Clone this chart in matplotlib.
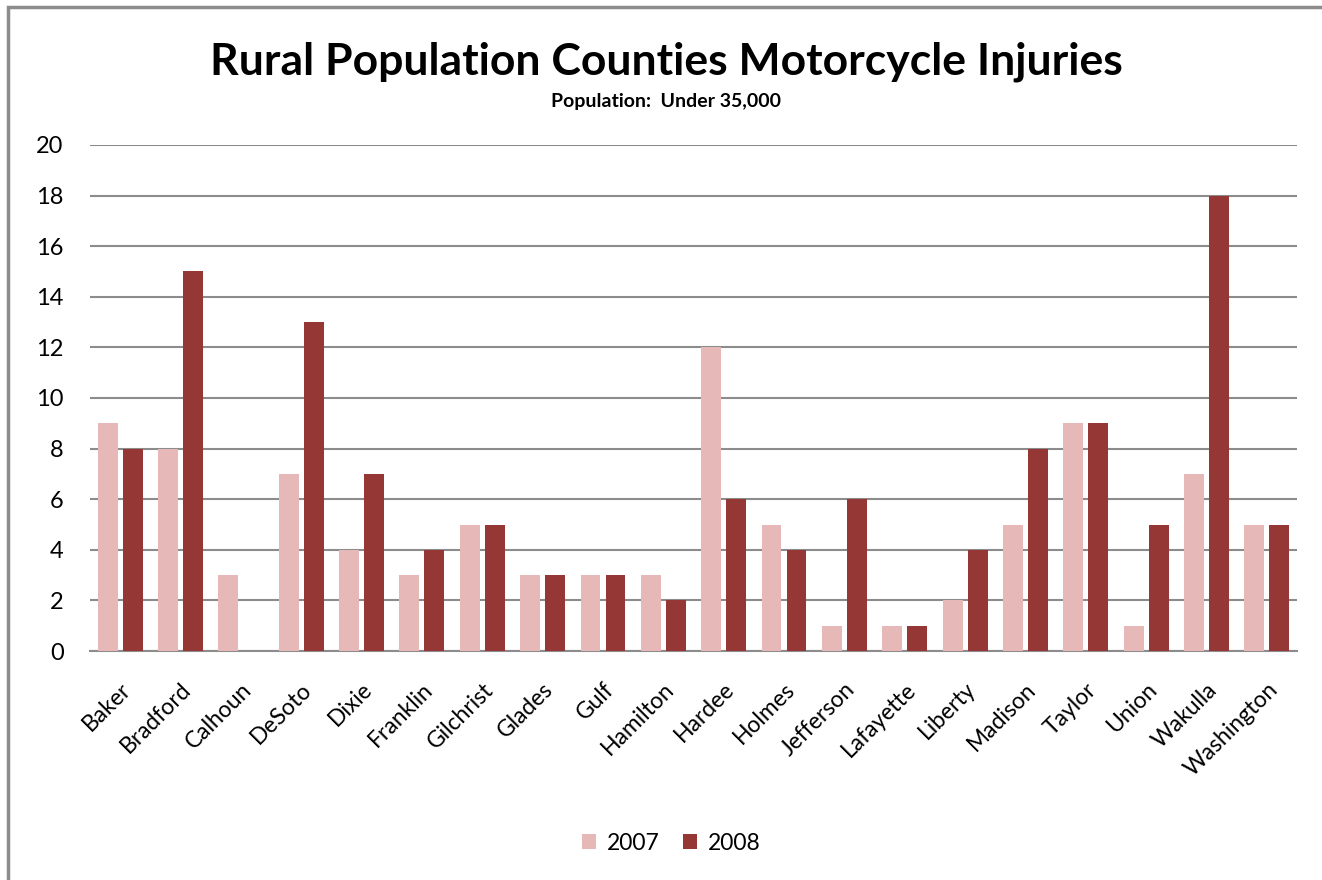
import matplotlib
matplotlib.use("Agg")
import matplotlib.pyplot as plt
import numpy as np
from matplotlib.patches import Rectangle

counties = ["Baker", "Bradford", "Calhoun", "DeSoto", "Dixie", "Franklin", "Gilchrist",
            "Glades", "Gulf", "Hamilton", "Hardee", "Holmes", "Jefferson", "Lafayette",
            "Liberty", "Madison", "Taylor", "Union", "Wakulla", "Washington"]
y2007 = [9, 8, 3, 7, 4, 3, 5, 3, 3, 3, 12, 5, 1, 1, 2, 5, 9, 1, 7, 5]
y2008 = [8, 15, 0, 13, 7, 4, 5, 3, 3, 2, 6, 4, 6, 1, 4, 8, 9, 5, 18, 5]
series_labels = ["2007", "2008"]
yticks = [0, 2, 4, 6, 8, 10, 12, 14, 16, 18, 20]

plt.rcParams['font.family'] = ['Lato', 'DejaVu Sans']

W, H = 1322, 880
fig = plt.figure(figsize=(W / 100, H / 100), dpi=100)
fig.patch.set_facecolor('white')

# outer border (left/top visible)
fig.add_artist(Rectangle((8 / W, -0.1), 1.2, 1 - 7 / H + 0.1, transform=fig.transFigure,
                         fill=False, edgecolor='#8c8c8c', linewidth=2.5))

left, right, top, bottom = 90, 1297, 145, 651
ax = fig.add_axes([left / W, 1 - bottom / H, (right - left) / W, (bottom - top) / H])

x = np.arange(len(counties))
bw = 0.33
off = 0.207
ax.bar(x - off, y2007, bw, color='#E6B9B8', label=series_labels[0], zorder=3)
ax.bar(x + off, y2008, bw, color='#953735', label=series_labels[1], zorder=3)

ax.set_xlim(-0.5, len(counties) - 0.5)
ax.set_ylim(0, 20)
ax.set_yticks(yticks)
ax.set_yticklabels([str(v) for v in yticks], fontsize=17)
ax.yaxis.grid(True, color='#8c8c8c', linewidth=1.5, zorder=0)
ax.set_axisbelow(True)
for s in ['top', 'right', 'left']:
    ax.spines[s].set_visible(False)
ax.spines['bottom'].set_color('#8c8c8c')
ax.spines['bottom'].set_linewidth(1.5)
ax.tick_params(axis='both', length=0)
ax.tick_params(axis='y', pad=19)
ax.set_xticks(x)
ax.set_xticklabels(counties, rotation=45, ha='right', rotation_mode='anchor', fontsize=16.5)
ax.tick_params(axis='x', pad=20)

fig.text(0.5 + 5 / W, 1 - 62 / H, "Rural Population Counties Motorcycle Injuries", ha='center', va='center',
         fontsize=32, fontweight='bold')
fig.text(0.5 + 5 / W, 1 - 101 / H, "Population:  Under 35,000", ha='center', va='center',
         fontsize=14, fontweight='bold')

leg = fig.legend(loc='center', bbox_to_anchor=(0.508, 1 - 843 / H), ncol=2, frameon=False,
                 fontsize=16.5, handlelength=0.6, handleheight=0.6, columnspacing=1.0, handletextpad=0.5)

fig.savefig("out.png", dpi=100)
